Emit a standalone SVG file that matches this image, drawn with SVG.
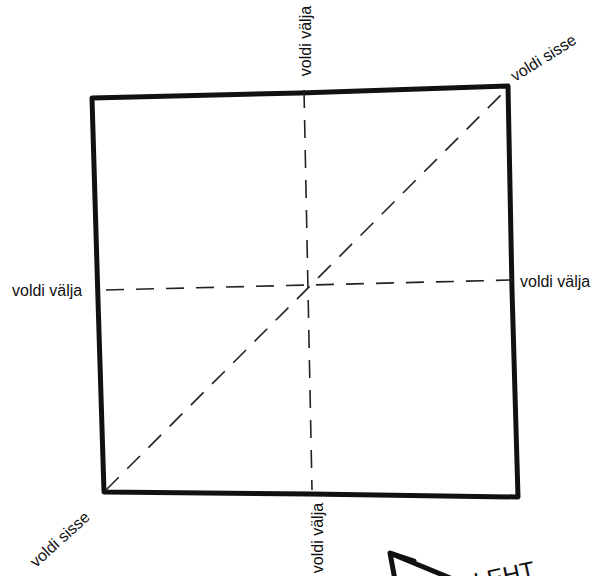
<svg xmlns="http://www.w3.org/2000/svg" width="596" height="576" viewBox="0 0 596 576">
<style>
.edge{fill:none;stroke:#111;stroke-width:5;stroke-linejoin:round;stroke-linecap:round}
.dash{fill:none;stroke:#222;stroke-width:1.6;stroke-dasharray:18 12}
.lbl{font-family:"Liberation Sans",Arial,sans-serif;font-size:16px;fill:#111}
</style>
<rect width="596" height="576" fill="#fff"/>
<g id="square">
<path class="edge" d="M92,98 L300,93 L508,86 L512,290 L518,497 L310,494 L104,492 L98,300 Z"/>
</g>
<g id="connectors">
<path class="dash" d="M304,90 L312,490"/>
<path class="dash" d="M106,290 L512,280"/>
<path class="dash" d="M106,490 L508,88"/>
</g>
<g id="label-top"><text class="lbl" transform="translate(311,41) rotate(-90)" text-anchor="middle">voldi välja</text></g>
<g id="label-bottom"><text class="lbl" transform="translate(323,538) rotate(-90)" text-anchor="middle">voldi välja</text></g>
<g id="label-left"><text class="lbl" x="12" y="296">voldi välja</text></g>
<g id="label-right"><text class="lbl" x="520" y="287">voldi välja</text></g>
<g id="label-tr"><text class="lbl" transform="translate(515,82) rotate(-32)">voldi sisse</text></g>
<g id="label-bl"><text class="lbl" transform="translate(36,568) rotate(-42)">voldi sisse</text></g>
<g id="arrow">
<path d="M392,554 L455,580" fill="none" stroke="#111" stroke-width="5" stroke-linecap="round"/>
<path d="M395,580 L390,553 L414,561" fill="none" stroke="#111" stroke-width="5" stroke-linecap="round" stroke-linejoin="round"/>
<text transform="translate(476,590) rotate(-12)" style="font-family:'Liberation Sans',Arial,sans-serif;font-size:24px;fill:#111">LEHT</text>
</g>
</svg>
